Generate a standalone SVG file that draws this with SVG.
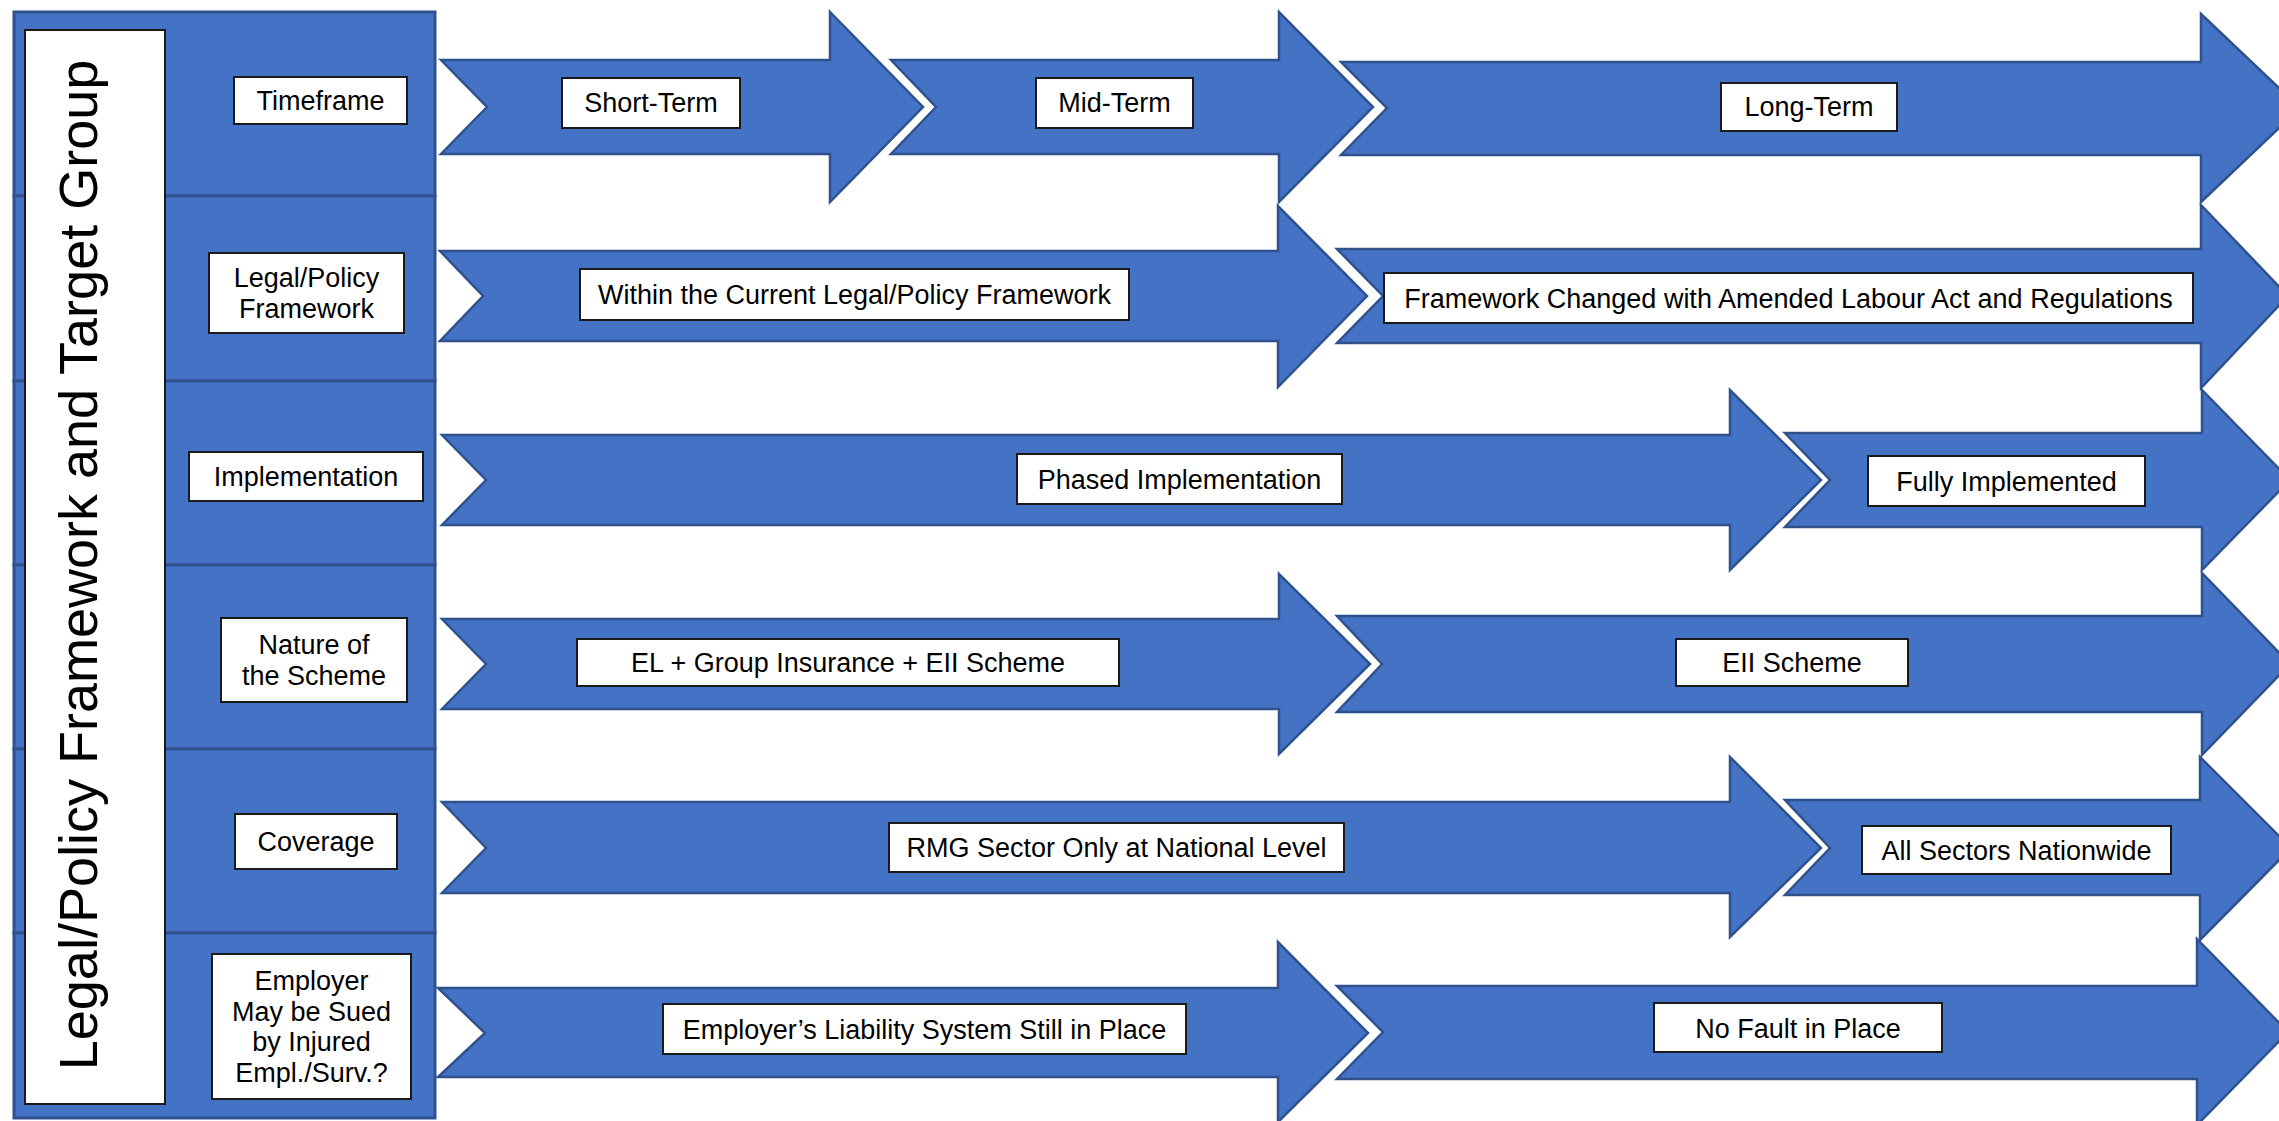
<svg xmlns="http://www.w3.org/2000/svg" width="2279" height="1121" viewBox="0 0 2279 1121">
<style>
.row{fill:#4472C4;stroke:#2F528F;stroke-width:3}
.arr{fill:#4472C4;stroke:#2F528F;stroke-width:2.5;stroke-linejoin:miter}
.box{fill:#FFFFFF;stroke:#1A1A1A;stroke-width:2}
.t{font-family:"Liberation Sans",Arial,sans-serif;font-size:27px;fill:#000;text-anchor:middle}
.big{font-family:"Liberation Sans",Arial,sans-serif;font-size:54px;fill:#000;text-anchor:middle}
</style>
<rect width="2279" height="1121" fill="#FFFFFF"/>
<g id="panel">
<rect class="row" x="14" y="12" width="421" height="184"/>
<rect class="row" x="14" y="196" width="421" height="185"/>
<rect class="row" x="14" y="381" width="421" height="184"/>
<rect class="row" x="14" y="565" width="421" height="184"/>
<rect class="row" x="14" y="749" width="421" height="184"/>
<rect class="row" x="14" y="933" width="421" height="185"/>
</g>
<g id="title">
<rect class="box" x="25" y="30" width="140" height="1074"/>
<text class="big" transform="translate(97,565) rotate(-90)" x="0" y="0">Legal/Policy Framework and Target Group</text>
</g>
<g id="row-labels">
<g id="lbl-timeframe"><rect class="box" x="234" y="77" width="173" height="47"/><text class="t" x="320.5" y="110">Timeframe</text></g>
<g id="lbl-legal"><rect class="box" x="209" y="253" width="195" height="80"/><text class="t" x="306.5" y="287">Legal/Policy</text><text class="t" x="306.5" y="318">Framework</text></g>
<g id="lbl-impl"><rect class="box" x="189" y="452" width="234" height="49"/><text class="t" x="306" y="486">Implementation</text></g>
<g id="lbl-nature"><rect class="box" x="221" y="618" width="186" height="84"/><text class="t" x="314" y="654">Nature of</text><text class="t" x="314" y="685">the Scheme</text></g>
<g id="lbl-coverage"><rect class="box" x="235" y="814" width="162" height="55"/><text class="t" x="316" y="851">Coverage</text></g>
<g id="lbl-employer"><rect class="box" x="212" y="954" width="199" height="145"/><text class="t" x="311.5" y="990">Employer</text><text class="t" x="311.5" y="1021">May be Sued</text><text class="t" x="311.5" y="1051">by Injured</text><text class="t" x="311.5" y="1082">Empl./Surv.?</text></g>
</g>
<g id="connectors">
<polygon class="arr" points="441,60 830,60 830,12 923,107 830,202 830,154 441,154 487,107"/>
<polygon class="arr" points="891,60 1279,60 1279,12 1373,107 1279,202 1279,154 891,154 936,107"/>
<polygon class="arr" points="1341,62 2201,62 2201,14 2300,108 2201,202 2201,155 1341,155 1387,108"/>
<polygon class="arr" points="440,251 1278,251 1278,206 1367,296 1278,387 1278,341 440,341 483,296"/>
<polygon class="arr" points="1337,249 2201,249 2201,205 2288,296 2201,388 2201,343 1337,343 1383,296"/>
<polygon class="arr" points="442,435 1730,435 1730,390 1821,480 1730,570 1730,525 442,525 486,480"/>
<polygon class="arr" points="1785,433 2202,433 2202,390 2290,480 2202,570 2202,527 1785,527 1830,480"/>
<polygon class="arr" points="442,619 1279,619 1279,574 1370,664 1279,754 1279,709 442,709 486,664"/>
<polygon class="arr" points="1337,616 2202,616 2202,573 2290,664 2202,755 2202,712 1337,712 1382,664"/>
<polygon class="arr" points="442,802 1730,802 1730,757 1821,848 1730,937 1730,893 442,893 486,848"/>
<polygon class="arr" points="1785,800 2200,800 2200,757 2291,848 2200,940 2200,895 1785,895 1830,848"/>
<polygon class="arr" points="438,988 1278,988 1278,942 1368,1033 1278,1122 1278,1077 438,1077 485,1033"/>
<polygon class="arr" points="1337,986 2197,986 2197,939 2288,1032 2197,1125 2197,1079 1337,1079 1383,1032"/>
</g>
<g id="stage-labels">
<g id="s-short"><rect class="box" x="562" y="78" width="178" height="50"/><text class="t" x="651" y="112">Short-Term</text></g>
<g id="s-mid"><rect class="box" x="1036" y="78" width="157" height="50"/><text class="t" x="1114.5" y="112">Mid-Term</text></g>
<g id="s-long"><rect class="box" x="1721" y="83" width="176" height="48"/><text class="t" x="1809" y="116">Long-Term</text></g>
<g id="s-within"><rect class="box" x="580" y="269" width="549" height="51"/><text class="t" x="854.5" y="304">Within the Current Legal/Policy Framework</text></g>
<g id="s-changed"><rect class="box" x="1384" y="273" width="809" height="50"/><text class="t" x="1788.5" y="308">Framework Changed with Amended Labour Act and Regulations</text></g>
<g id="s-phased"><rect class="box" x="1017" y="454" width="325" height="50"/><text class="t" x="1179.5" y="489">Phased Implementation</text></g>
<g id="s-fully"><rect class="box" x="1868" y="456" width="277" height="50"/><text class="t" x="2006.5" y="491">Fully Implemented</text></g>
<g id="s-el"><rect class="box" x="577" y="639" width="542" height="47"/><text class="t" x="848" y="672">EL + Group Insurance + EII Scheme</text></g>
<g id="s-eii"><rect class="box" x="1676" y="639" width="232" height="47"/><text class="t" x="1792" y="672">EII Scheme</text></g>
<g id="s-rmg"><rect class="box" x="889" y="823" width="455" height="49"/><text class="t" x="1116.5" y="857">RMG Sector Only at National Level</text></g>
<g id="s-all"><rect class="box" x="1862" y="826" width="309" height="48"/><text class="t" x="2016.5" y="860">All Sectors Nationwide</text></g>
<g id="s-elsys"><rect class="box" x="663" y="1004" width="523" height="50"/><text class="t" x="924.5" y="1039">Employer’s Liability System Still in Place</text></g>
<g id="s-nofault"><rect class="box" x="1654" y="1003" width="288" height="49"/><text class="t" x="1798" y="1038">No Fault in Place</text></g>
</g>
</svg>
